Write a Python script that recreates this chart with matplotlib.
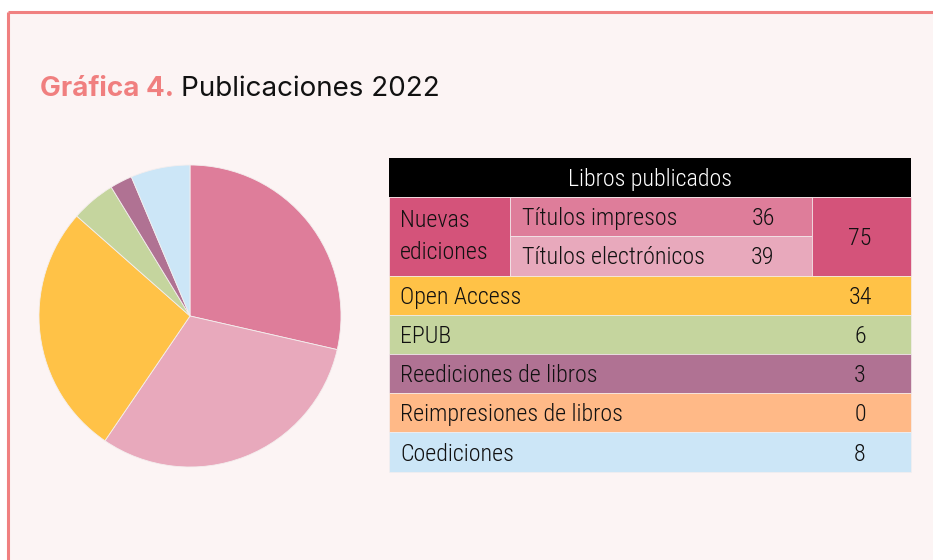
import matplotlib
matplotlib.use("Agg")
import matplotlib.pyplot as plt
from matplotlib.patches import Rectangle

# ---- data ----
pie_labels = ["Títulos impresos", "Títulos electrónicos", "Open Access", "EPUB",
              "Reediciones de libros", "Coediciones"]
pie_values = [36, 39, 34, 6, 3, 8]
pie_colors = ["#de7d9a", "#e8a9bc", "#ffc247", "#c5d59e", "#b07293", "#cce6f7"]

nuevas_labels = ["Títulos impresos", "Títulos electrónicos"]
nuevas_values = [36, 39]
nuevas_colors = ["#de7d9a", "#e8a9bc"]
nuevas_total = 75

row_labels = ["Open Access", "EPUB", "Reediciones de libros", "Reimpresiones de libros", "Coediciones"]
row_values = [34, 6, 3, 0, 8]
row_colors = ["#ffc247", "#c5d59e", "#b07293", "#ffb987", "#cce6f7"]

W, H = 933, 560
fig = plt.figure(figsize=(W / 100, H / 100), dpi=100)
fig.patch.set_facecolor("white")
ax = fig.add_axes([0, 0, 1, 1])
ax.set_axis_off()

def Y(y):  # top-based pixel -> bottom-based
    return H - y

# pie first (it resets limits), then fix limits
ax.pie(pie_values, colors=pie_colors, startangle=90, counterclock=False,
       center=(190, Y(316)), radius=151,
       wedgeprops=dict(edgecolor="#f4eeee", linewidth=0.6))
ax.set_xlim(0, W)
ax.set_ylim(0, H)
ax.set_aspect("auto")

# background panel + border
ax.add_patch(Rectangle((8, 0), W - 8, Y(12), facecolor="#fcf4f4", edgecolor="none", zorder=0))
ax.plot([8, 8], [0, Y(12)], color="#f08080", lw=2.2, zorder=1, solid_capstyle="butt")
ax.plot([8, W], [Y(12), Y(12)], color="#f08080", lw=2.2, zorder=1, solid_capstyle="butt")

# title
t1 = ax.text(40, Y(89), "Gráfica 4.", fontsize=20, fontweight="bold", color="#f07f7f",
             family="Inter", va="center", ha="left")
fig.canvas.draw()
bb = t1.get_window_extent()
ax.text(bb.x1 + 7, Y(89), "Publicaciones 2022", fontsize=20, color="#111111",
        family="Inter", va="center", ha="left")

# table
x0, x1, x2, x3 = 389, 510, 812, 911
rh = 39.2
top = 158
dy = 2  # text sits a bit low in its cell
tk = dict(fontsize=17.3, family="Roboto Condensed", fontweight="light", color="#111111", zorder=3)
ax.add_patch(Rectangle((x0, Y(top + rh)), x3 - x0, rh, facecolor="black", edgecolor="none", zorder=2))
ax.text((x0 + x3) / 2, Y(top + rh / 2 + dy), "Libros publicados", ha="center", va="center",
        **{**tk, "color": "white"})

y = top + rh
ax.add_patch(Rectangle((x0, Y(y + 2 * rh)), x1 - x0, 2 * rh, facecolor="#d4537a",
                       edgecolor="#f4eeee", lw=0.5, zorder=2))
ax.text(x0 + 11, Y(y + rh * 0.55 + dy), "Nuevas", ha="left", va="center", **tk)
ax.text(x0 + 11, Y(y + rh * 1.35 + dy), "ediciones", ha="left", va="center", **tk)
for i, (lab, val, col) in enumerate(zip(nuevas_labels, nuevas_values, nuevas_colors)):
    yy = y + i * rh
    ax.add_patch(Rectangle((x1, Y(yy + rh)), x2 - x1, rh, facecolor=col,
                           edgecolor="#f4eeee", lw=0.5, zorder=2))
    ax.text(x1 + 12, Y(yy + rh / 2 + dy), lab, ha="left", va="center", **tk)
    ax.text(763, Y(yy + rh / 2 + dy), str(val), ha="center", va="center", **tk)
ax.add_patch(Rectangle((x2, Y(y + 2 * rh)), x3 - x2, 2 * rh, facecolor="#d4537a",
                       edgecolor="#f4eeee", lw=0.5, zorder=2))
ax.text(860, Y(y + rh + dy), str(nuevas_total), ha="center", va="center", **tk)

y = y + 2 * rh
for i, (lab, val, col) in enumerate(zip(row_labels, row_values, row_colors)):
    yy = y + i * rh
    ax.add_patch(Rectangle((x0, Y(yy + rh)), x3 - x0, rh, facecolor=col,
                           edgecolor="#f4eeee", lw=0.5, zorder=2))
    ax.text(x0 + 11, Y(yy + rh / 2 + dy), lab, ha="left", va="center", **tk)
    ax.text(860, Y(yy + rh / 2 + dy), str(val), ha="center", va="center", **tk)

fig.savefig("out.png", dpi=100, facecolor=fig.get_facecolor())
